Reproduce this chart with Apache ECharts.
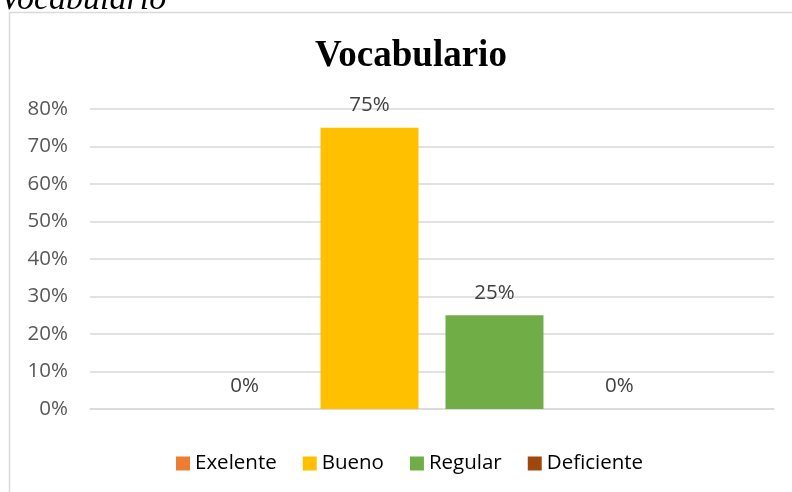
<!DOCTYPE html>
<html>
<head>
<meta charset="utf-8">
<script src="https://cdn.jsdelivr.net/npm/echarts@6/dist/echarts.min.js"></script>
<style>
  html, body { margin: 0; padding: 0; background: #fff; }
  #chart { width: 792px; height: 492px; }
</style>
</head>
<body>
<div id="chart"></div>
<script>
// datos del gráfico
const categorias = ['Vocabulario'];
const seriesNombres = ['Exelente', 'Bueno', 'Regular', 'Deficiente'];
const seriesValores = [[0], [75], [25], [0]];
const seriesColores = ['#ED7D31', '#FFC000', '#70AD47', '#9E480E'];

let myChart = echarts.init(document.getElementById('chart'));

let option = {
  animation: false,
  title: {
    text: 'Vocabulario',
    left: 310,
    top: 33,
    textStyle: {
      fontFamily: 'Liberation Serif',
      fontWeight: 'bold',
      fontSize: 37,
      color: '#000'
    }
  },
  graphic: [
    {
      type: 'rect',
      shape: { x: 9.5, y: 12.5, width: 900, height: 600 },
      style: { fill: 'none', stroke: '#d9d9d9', lineWidth: 1.5 },
      z: -1
    },
    {
      type: 'text',
      left: 0,
      top: -17,
      style: {
        text: 'Vocabulario',
        font: 'italic 34px "Liberation Serif"',
        fill: '#000'
      }
    }
  ],
  legend: {
    data: seriesNombres,
    bottom: 13,
    left: 171,
    itemWidth: 14,
    itemHeight: 14,
    itemGap: 26,
    icon: 'rect',
    textStyle: {
      fontFamily: 'Open Sans',
      fontSize: 20.5,
      color: '#000'
    }
  },
  grid: {
    left: 90,
    right: 18,
    top: 109,
    bottom: 83,
    containLabel: false
  },
  xAxis: {
    type: 'category',
    data: categorias,
    axisLabel: { show: false },
    axisTick: { show: false },
    axisLine: { lineStyle: { color: '#d9d9d9', width: 1.5 } }
  },
  yAxis: {
    type: 'value',
    min: 0,
    max: 80,
    interval: 10,
    axisLabel: {
      formatter: '{value}%',
      fontFamily: 'Open Sans',
      fontSize: 20.5,
      color: '#595959',
      margin: 22
    },
    axisLine: { show: false },
    axisTick: { show: false },
    splitLine: { lineStyle: { color: '#d9d9d9', width: 1.5 } }
  },
  series: seriesNombres.map((nombre, i) => ({
    name: nombre,
    type: 'bar',
    data: seriesValores[i],
    barWidth: 98,
    barGap: '27.5%',
    itemStyle: { color: seriesColores[i] },
    label: {
      show: true,
      position: 'top',
      distance: 12,
      formatter: '{c}%',
      fontFamily: 'Open Sans',
      fontSize: 20.5,
      color: '#404040'
    }
  }))
};

myChart.setOption(option);
</script>
</body>
</html>
